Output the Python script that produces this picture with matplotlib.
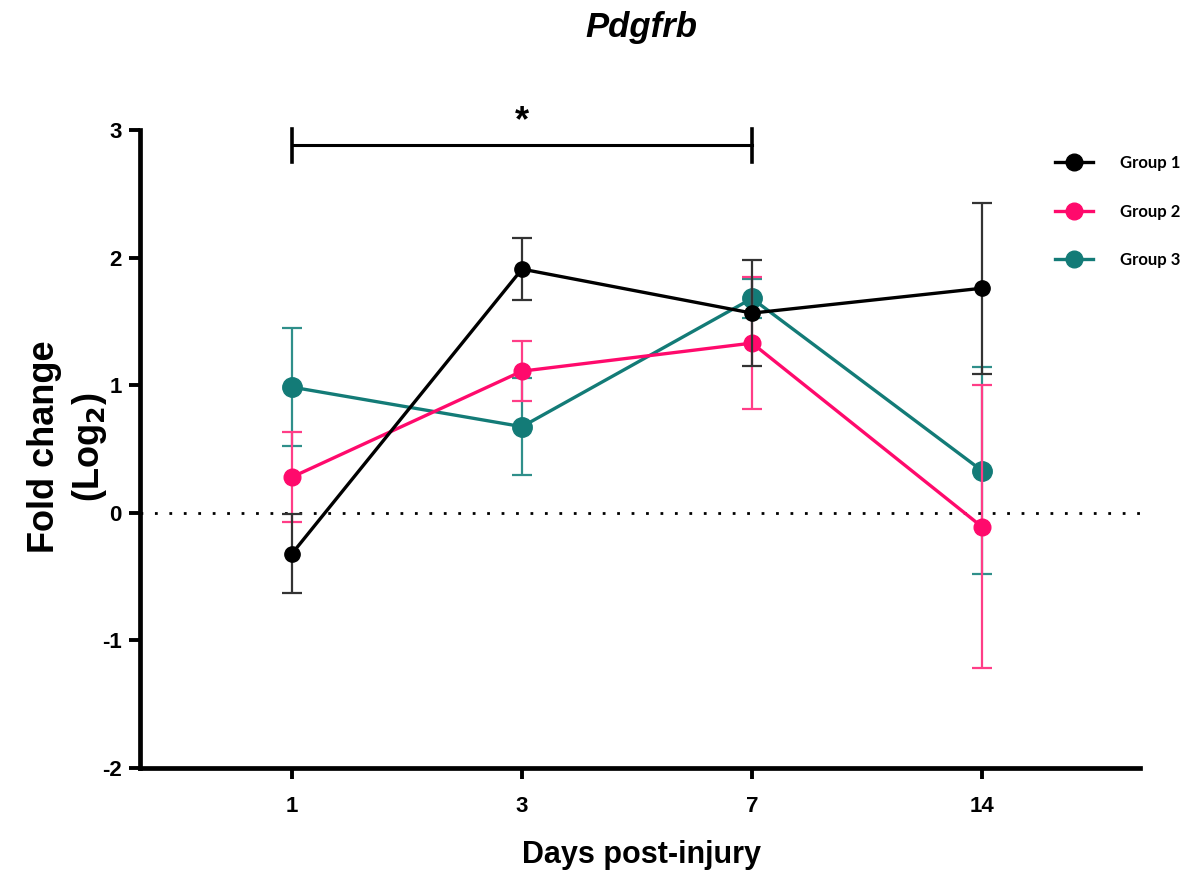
import matplotlib
matplotlib.use('Agg')
import matplotlib.pyplot as plt
from matplotlib.lines import Line2D
import numpy as np

plt.rcParams['font.family'] = ['Liberation Sans', 'DejaVu Sans']

DAYS = ['1', '3', '7', '14']
GROUPS = ['Group 1', 'Group 2', 'Group 3']

# mean fold change (log2) and SEM
group1_mean = [-0.32, 1.91, 1.565, 1.76]
group1_err = [0.31, 0.245, 0.415, 0.67]
group2_mean = [0.28, 1.11, 1.33, -0.11]
group2_err = [0.35, 0.235, 0.52, 1.11]
group3_mean = [0.985, 0.675, 1.68, 0.33]
group3_err = [0.465, 0.38, 0.15, 0.81]

COLORS = ['#000000', '#FF0A6C', '#137B77']
ERR_COLORS = ['#333333', '#FF3D87', '#2F8F8A']
MARKER_SIZES = [11, 12, 14]

# significance bracket between day 1 and day 7
SIG_PAIR = (0, 2)
SIG_LEVEL = 2.88
SIG_LABEL = '*'


def plot_group(ax, x, mean, err, idx, z):
    ax.errorbar(x, mean, yerr=err, fmt='none', ecolor=ERR_COLORS[idx],
                elinewidth=1.6, capsize=7, capthick=1.6, zorder=z)
    ax.plot(x, mean, color=COLORS[idx], lw=2.4, marker='o',
            markersize=MARKER_SIZES[idx], zorder=z + 0.5)


def main():
    fig = plt.figure(figsize=(12.02, 8.73), dpi=100)
    ax = fig.add_axes([140 / 1202, 105 / 873, 1000 / 1202, 638 / 873])

    x = np.arange(len(DAYS))
    ax.axhline(0, color='black', lw=2, ls=(0, (1, 4.2)), zorder=1)

    plot_group(ax, x, group3_mean, group3_err, 2, 2)
    plot_group(ax, x, group2_mean, group2_err, 1, 3)
    plot_group(ax, x, group1_mean, group1_err, 0, 4)

    # bracket
    x0, x1 = SIG_PAIR
    ax.plot([x0, x1], [SIG_LEVEL, SIG_LEVEL], color='black', lw=2.2,
            clip_on=False)
    for xx in (x0, x1):
        ax.plot([xx, xx], [SIG_LEVEL - 0.13, SIG_LEVEL + 0.13], color='black',
                lw=2.6, clip_on=False)
    ax.text((x0 + x1) / 2, SIG_LEVEL + 0.05, SIG_LABEL, ha='center',
            va='bottom', fontsize=26, fontweight='bold')

    ax.set_xlim(-(292 - 140) / 230, (1140 - 292) / 230)
    ax.set_ylim(-2, 3)
    ax.set_xticks(x)
    ax.set_xticklabels(DAYS)
    ax.set_yticks([-2, -1, 0, 1, 2, 3])
    ax.set_yticklabels(['-2', '-1', '0', '1', '2', '3'])

    for side in ('top', 'right'):
        ax.spines[side].set_visible(False)
    for side in ('left', 'bottom'):
        ax.spines[side].set_linewidth(3.4)
    ax.tick_params(axis='both', direction='out', length=8, width=2.8,
                   labelsize=16, pad=5)
    for lab in ax.get_xticklabels() + ax.get_yticklabels():
        lab.set_fontweight('bold')
    ax.tick_params(axis='x', pad=12)

    fig.text(641 / 1202, 1 - 28 / 873, 'Pdgfrb', ha='center', va='center',
             fontsize=25, fontweight='bold', fontstyle='italic')
    fig.text(641 / 1202, 1 - 855 / 873, 'Days post-injury', ha='center',
             va='center', fontsize=22, fontweight='bold')
    fig.text(68 / 1202, 1 - 447 / 873, 'Fold change\n(Log$_\\mathbf{2}$)',
             ha='center', va='center', rotation=90, fontsize=26,
             fontweight='bold', multialignment='center', linespacing=1.3)

    handles = [Line2D([0], [0], color=c, lw=2.4, marker='o', markersize=12)
               for c in COLORS]
    fig.legend(handles, GROUPS, loc='upper left',
               bbox_to_anchor=(1040 / 1202, 1 - 140 / 873),
               frameon=False, handlelength=2.3, handletextpad=1.6,
               labelspacing=1.95, prop={'family': 'Lato', 'weight': 'bold',
                                        'size': 12})

    fig.savefig('out.png', dpi=100)
    plt.close(fig)


if __name__ == "__main__":
    main()
